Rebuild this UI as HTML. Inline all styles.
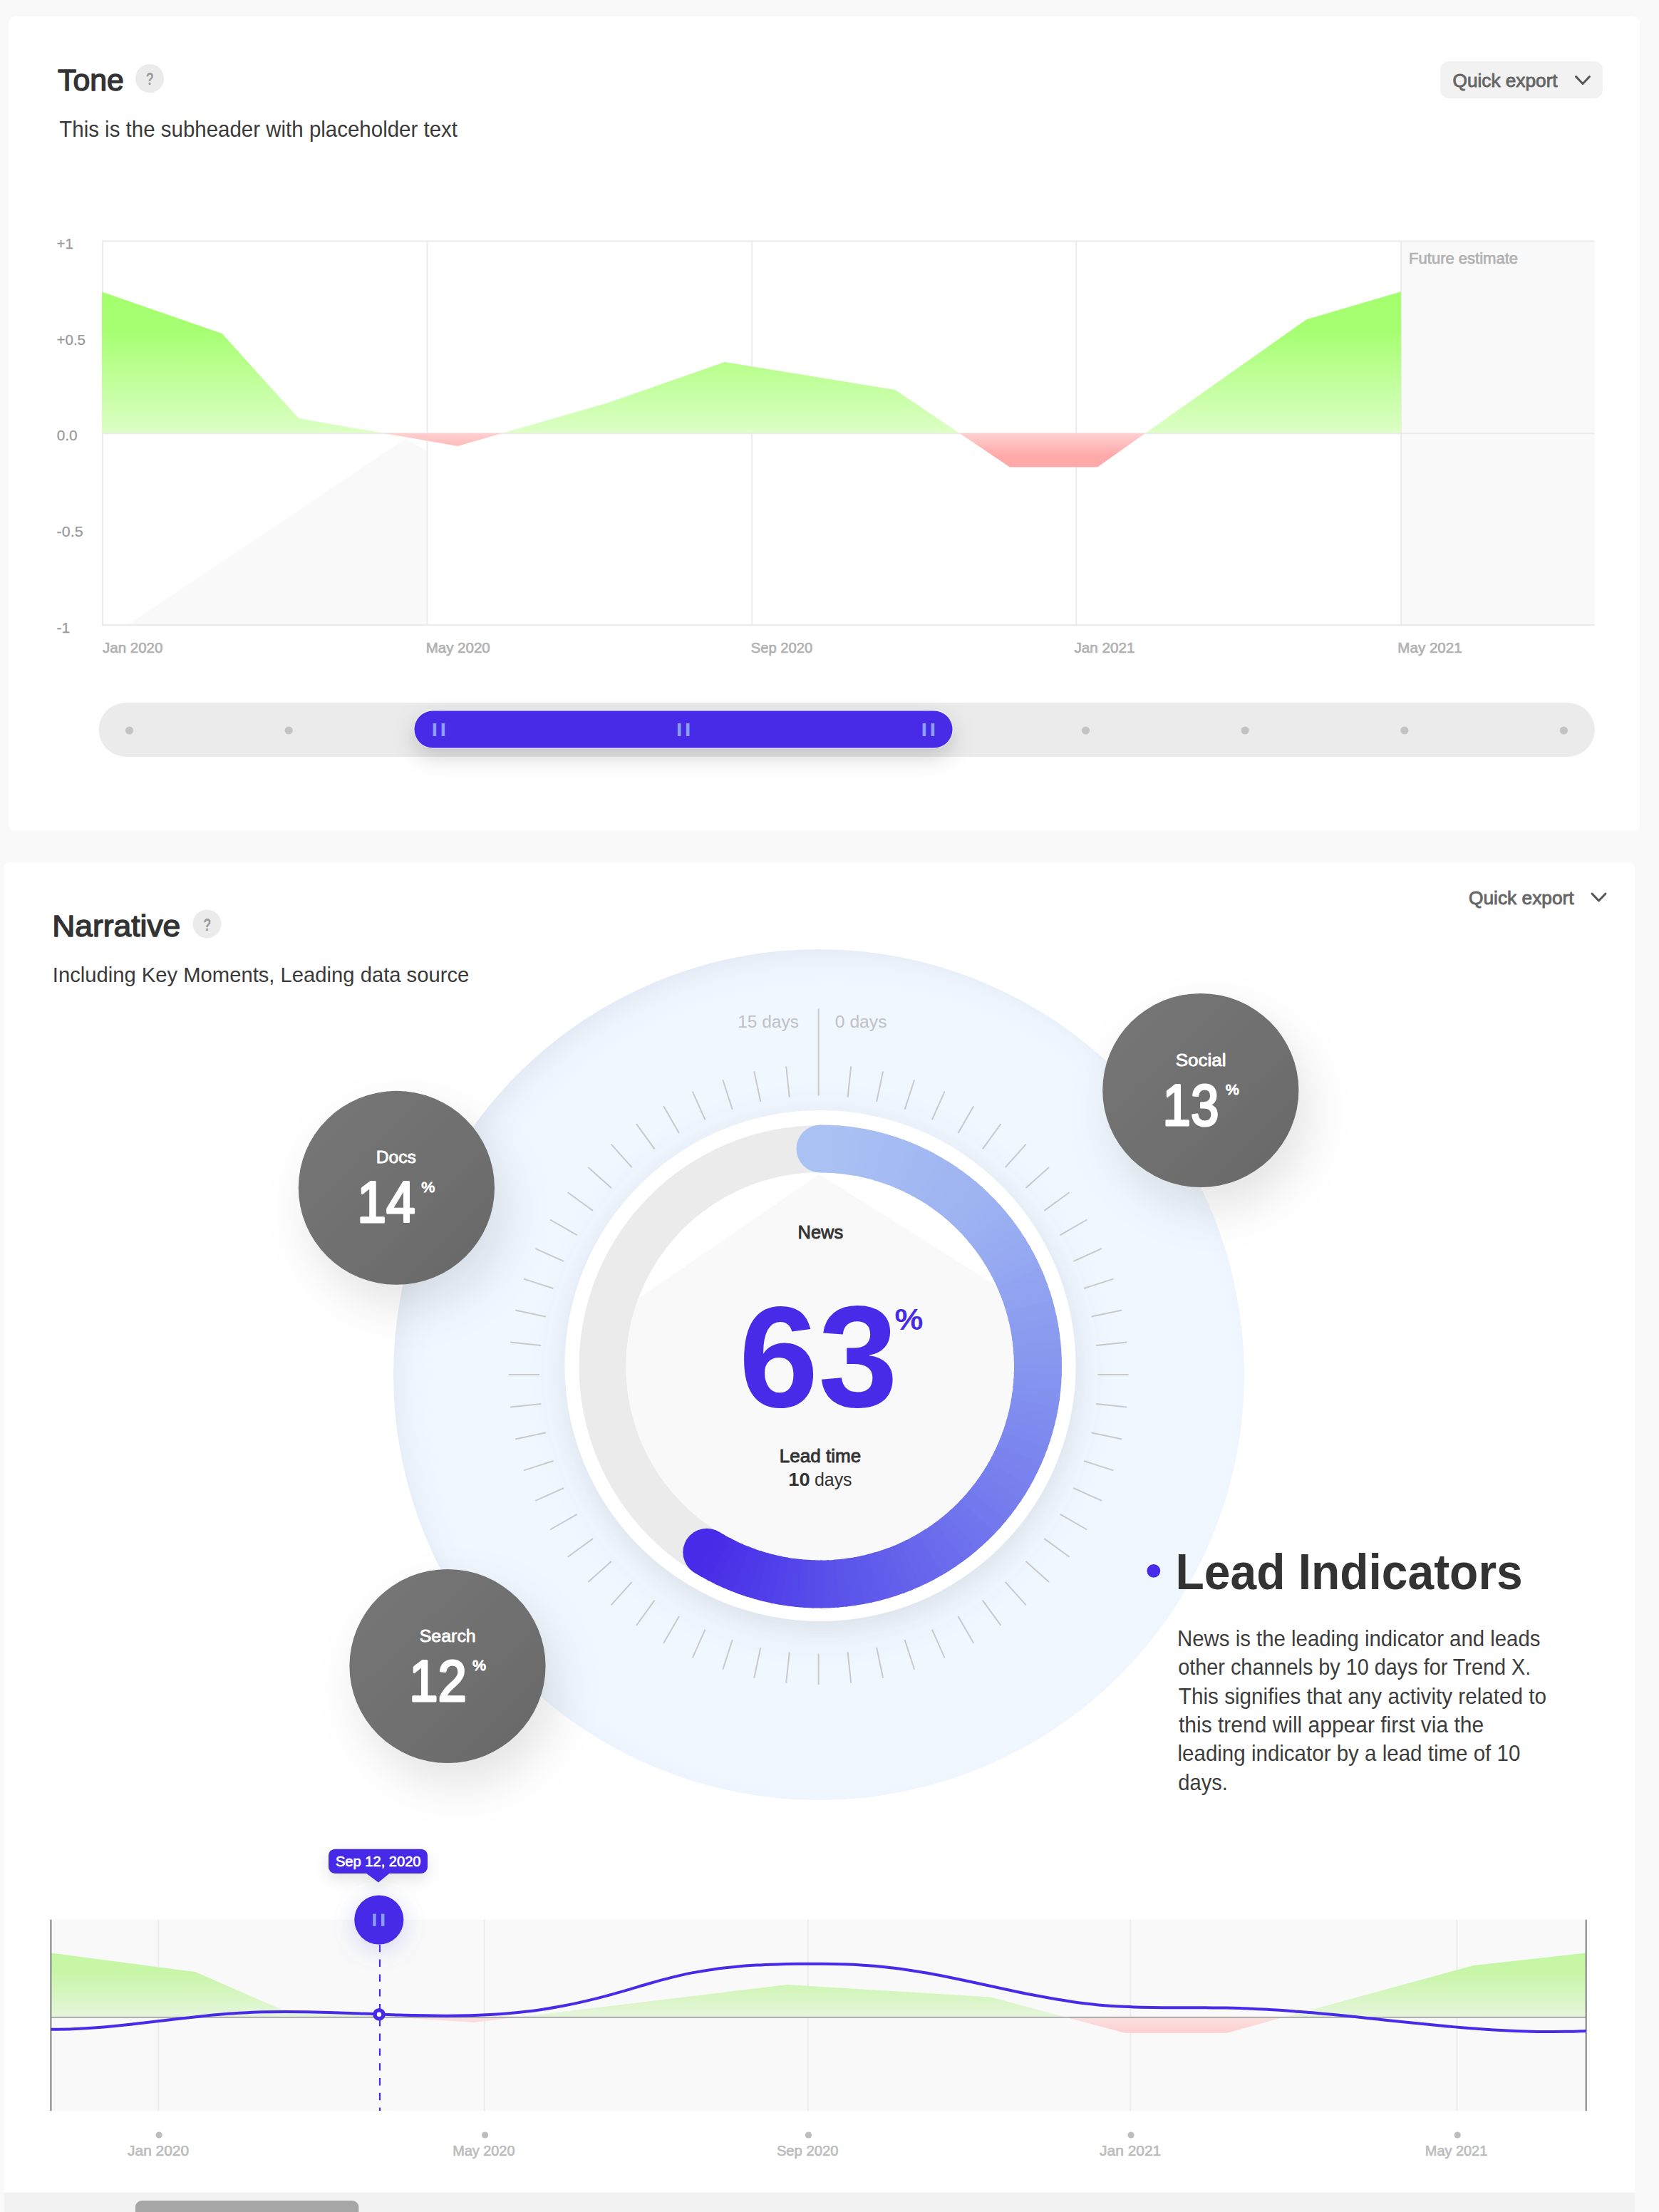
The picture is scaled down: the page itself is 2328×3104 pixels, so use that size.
<!DOCTYPE html>
<html lang="en">
<head>
<meta charset="utf-8">
<title>Tone &amp; Narrative</title>
<style>
html,body{margin:0;padding:0;background:#f9f9f9;}
body{font-family:'Liberation Sans',sans-serif;}
svg{display:block;width:100vw;height:calc(100vw * 3104 / 2328);}
svg text{font-family:"Liberation Sans",sans-serif;white-space:pre;}
</style>
</head>
<body>
<svg viewBox="0 0 2328 3104" preserveAspectRatio="xMinYMin meet">
<defs>
<linearGradient id="gG" gradientUnits="userSpaceOnUse" x1="0" y1="409" x2="0" y2="608">
<stop offset="0" stop-color="#a4ff6e"/><stop offset="0.28" stop-color="#a6ff71"/><stop offset="1" stop-color="#dcffc6"/></linearGradient>
<linearGradient id="gR" gradientUnits="userSpaceOnUse" x1="0" y1="608" x2="0" y2="656">
<stop offset="0" stop-color="#ffd0d0"/><stop offset="0.64" stop-color="#ffaaaa"/><stop offset="1" stop-color="#ffa8a8"/></linearGradient>
<linearGradient id="mG" gradientUnits="userSpaceOnUse" x1="0" y1="2740" x2="0" y2="2831">
<stop offset="0" stop-color="#c4f7a2"/><stop offset="0.3" stop-color="#c8f6a8"/><stop offset="1" stop-color="#e6f5dc"/></linearGradient>
<linearGradient id="mR" gradientUnits="userSpaceOnUse" x1="0" y1="2831" x2="0" y2="2853">
<stop offset="0" stop-color="#fbe0e0"/><stop offset="1" stop-color="#fdcfcf"/></linearGradient>
<linearGradient id="dk" x1="0.1" y1="0.1" x2="0.9" y2="0.9">
<stop offset="0" stop-color="#757575"/><stop offset="0.5" stop-color="#707070"/><stop offset="1" stop-color="#6a6a6a"/></linearGradient>
<filter id="shThumb" x="-10%" y="-80%" width="120%" height="320%"><feDropShadow dx="0" dy="12" stdDeviation="15" flood-color="#000" flood-opacity="0.17"/></filter>
<filter id="shRing" x="-30%" y="-30%" width="160%" height="160%"><feDropShadow dx="2" dy="12" stdDeviation="24" flood-color="#666b78" flood-opacity="0.17"/></filter>
<filter id="shDark" x="-60%" y="-60%" width="220%" height="220%"><feDropShadow dx="15" dy="30" stdDeviation="32" flood-color="#000" flood-opacity="0.105"/></filter>
<filter id="shGlow" x="-100%" y="-100%" width="300%" height="300%"><feDropShadow dx="0" dy="6" stdDeviation="16" flood-color="#6f80d6" flood-opacity="0.30"/></filter>
<filter id="shTip" x="-40%" y="-100%" width="180%" height="400%"><feDropShadow dx="0" dy="8" stdDeviation="10" flood-color="#000" flood-opacity="0.11"/></filter>
<radialGradient id="disc" gradientUnits="userSpaceOnUse" cx="1167" cy="1947" r="622.5">
<stop offset="0" stop-color="#f0f7ff"/><stop offset="0.90" stop-color="#f0f7ff"/><stop offset="0.95" stop-color="#edf4fd"/><stop offset="1" stop-color="#e5ebf6"/></radialGradient>
<clipPath id="cInner"><circle cx="1151" cy="1917.5" r="272.5"/></clipPath>
<clipPath id="cCard2"><rect x="6" y="1210.4" width="2288" height="2000" rx="12"/></clipPath>
</defs>
<rect x="12" y="23.2" width="2289" height="1142.6" rx="9" fill="#fff"/>
<rect x="5.6" y="1210" width="2288.4" height="2000" rx="8.5" fill="#fff"/>
<rect x="5.6" y="3076.7" width="2288.4" height="40" fill="#f2f2f2"/>
<rect x="190" y="3088" width="313.4" height="30" rx="9" fill="#a6a6a6"/>
<rect x="1966" y="338.5" width="272" height="538.5" fill="#f9f9f9"/>
<polygon points="180.6,876 569.4,615.4 598.4,632.4 598.4,876" fill="#f9f9f9"/>
<clipPath id="cPos"><rect x="0" y="300" width="2328" height="307.79999999999995"/></clipPath>
<clipPath id="cNeg"><rect x="0" y="607.8" width="2328" height="300"/></clipPath>
<rect x="143" y="338.5" width="2" height="538.5" fill="#ececec"/>
<rect x="598.3" y="338.5" width="2" height="538.5" fill="#ececec"/>
<rect x="1054" y="338.5" width="2" height="538.5" fill="#ececec"/>
<rect x="1509.3" y="338.5" width="2" height="538.5" fill="#ececec"/>
<rect x="1965" y="338.5" width="2" height="538.5" fill="#ececec"/>
<rect x="143" y="337.5" width="2095" height="2" fill="#ececec"/>
<rect x="143" y="876" width="2095" height="2" fill="#ececec"/>
<rect x="143" y="607.3" width="2095" height="2" fill="#ececec"/>
<polygon points="143,607.8 143,409.5 311.5,468 419,587 642,626 854,565 1017,508 1256,547 1417,655.4 1540,655.4 1833.4,448.2 1966,409.3 1966,607.8" fill="url(#gG)" clip-path="url(#cPos)"/>
<polygon points="143,607.8 143,409.5 311.5,468 419,587 642,626 854,565 1017,508 1256,547 1417,655.4 1540,655.4 1833.4,448.2 1966,409.3 1966,607.8" fill="url(#gR)" clip-path="url(#cNeg)"/>
<rect x="138.6" y="986" width="2099.2" height="76" rx="38" fill="#ebebeb"/>
<circle cx="181.5" cy="1025" r="5.6" fill="#c3c3c3"/>
<circle cx="405.2" cy="1025" r="5.6" fill="#c3c3c3"/>
<circle cx="628.8" cy="1025" r="5.6" fill="#c3c3c3"/>
<circle cx="852.5" cy="1025" r="5.6" fill="#c3c3c3"/>
<circle cx="1076.1" cy="1025" r="5.6" fill="#c3c3c3"/>
<circle cx="1299.8" cy="1025" r="5.6" fill="#c3c3c3"/>
<circle cx="1523.5" cy="1025" r="5.6" fill="#c3c3c3"/>
<circle cx="1747.1" cy="1025" r="5.6" fill="#c3c3c3"/>
<circle cx="1970.8" cy="1025" r="5.6" fill="#c3c3c3"/>
<circle cx="2194.4" cy="1025" r="5.6" fill="#c3c3c3"/>
<rect x="580.6" y="996" width="756.8" height="54.2" rx="27.1" fill="#eceafa" filter="url(#shThumb)"/>
<rect x="581.5" y="997.5" width="755" height="52" rx="26" fill="#482be7"/>
<rect x="607.6" y="1015" width="4.6" height="18" fill="#8c9ff6"/>
<rect x="619.6" y="1015" width="4.6" height="18" fill="#8c9ff6"/>
<rect x="950.9000000000001" y="1015" width="4.6" height="18" fill="#8c9ff6"/>
<rect x="962.9000000000001" y="1015" width="4.6" height="18" fill="#8c9ff6"/>
<rect x="1294.6000000000001" y="1015" width="4.6" height="18" fill="#8c9ff6"/>
<rect x="1306.6000000000001" y="1015" width="4.6" height="18" fill="#8c9ff6"/>
<circle cx="1149" cy="1929" r="597" fill="url(#disc)"/>
<path d="M1148.7 1537.5L1148.7 1415.6M1189.6 1539.6L1194.2 1496.4M1230.1 1546.1L1239.1 1503.5M1269.7 1556.7L1283.1 1515.3M1307.9 1571.3L1325.6 1531.6M1344.5 1590.0L1366.2 1552.3M1378.8 1612.3L1404.4 1577.1M1410.7 1638.1L1439.8 1605.7M1439.6 1667.0L1472.0 1637.9M1465.4 1698.9L1500.6 1673.3M1487.7 1733.2L1525.4 1711.5M1506.4 1769.8L1546.1 1752.1M1521.0 1808.0L1562.4 1794.6M1531.6 1847.6L1574.2 1838.6M1538.1 1888.1L1581.3 1883.5M1540.2 1929.0L1583.7 1929.0M1538.1 1969.9L1581.3 1974.5M1531.6 2010.4L1574.2 2019.4M1521.0 2050.0L1562.4 2063.4M1506.4 2088.2L1546.1 2105.9M1487.7 2124.8L1525.4 2146.5M1465.4 2159.1L1500.6 2184.7M1439.6 2191.0L1472.0 2220.1M1410.7 2219.9L1439.8 2252.3M1378.8 2245.7L1404.4 2280.9M1344.5 2268.0L1366.2 2305.7M1307.9 2286.7L1325.6 2326.4M1269.7 2301.3L1283.1 2342.7M1230.1 2311.9L1239.1 2354.5M1189.6 2318.4L1194.2 2361.6M1148.7 2320.5L1148.7 2364.0M1107.8 2318.4L1103.2 2361.6M1067.3 2311.9L1058.3 2354.5M1027.7 2301.3L1014.3 2342.7M989.5 2286.7L971.8 2326.4M953.0 2268.0L931.2 2305.7M918.6 2245.7L893.0 2280.9M886.7 2219.9L857.6 2252.3M857.8 2191.0L825.4 2220.1M832.0 2159.1L796.8 2184.7M809.7 2124.8L772.0 2146.5M791.0 2088.2L751.3 2105.9M776.4 2050.0L735.0 2063.4M765.8 2010.4L723.2 2019.4M759.3 1969.9L716.1 1974.5M757.2 1929.0L713.7 1929.0M759.3 1888.1L716.1 1883.5M765.8 1847.6L723.2 1838.6M776.4 1808.0L735.0 1794.6M791.0 1769.8L751.3 1752.1M809.7 1733.2L772.0 1711.5M832.0 1698.9L796.8 1673.3M857.8 1667.0L825.4 1637.9M886.7 1638.1L857.6 1605.7M918.6 1612.3L893.0 1577.1M952.9 1590.0L931.2 1552.3M989.5 1571.3L971.8 1531.6M1027.7 1556.7L1014.3 1515.3M1067.3 1546.1L1058.3 1503.5M1107.8 1539.6L1103.2 1496.4" stroke="#cacaca" stroke-width="2" fill="none"/>
<ellipse cx="556.4" cy="1666.8" rx="137.6" ry="136" fill="url(#dk)" filter="url(#shDark)"/>
<ellipse cx="1684.8" cy="1530" rx="137.6" ry="136" fill="url(#dk)" filter="url(#shDark)"/>
<ellipse cx="628" cy="2338" rx="137.6" ry="136" fill="url(#dk)" filter="url(#shDark)"/>
<circle cx="1151" cy="1916.5" r="358.5" fill="#fff" filter="url(#shRing)"/>
<circle cx="1151" cy="1917.5" r="338.5" fill="#ebebeb"/>
<circle cx="1151" cy="1917.5" r="272.5" fill="#fff"/>
<polygon points="1149.5,1647.8 860,1846.7 860,2300 1440,2300 1440,1830.5" fill="#f9f9f9" clip-path="url(#cInner)"/>
<g fill="none" stroke-width="67"><circle cx="1151.00" cy="1612.00" r="33.5" fill="rgb(170, 194, 243)"/><circle cx="991.83" cy="2178.26" r="33.5" fill="rgb(71, 43, 232)"/><path d="M1151.00 1612.00A305.5 305.5 0 0 1 1164.30 1612.29" stroke="rgb(170, 194, 243)"/><path d="M1161.63 1612.19A305.5 305.5 0 0 1 1174.91 1612.94" stroke="rgb(169, 193, 243)"/><path d="M1172.25 1612.74A305.5 305.5 0 0 1 1185.49 1613.95" stroke="rgb(169, 192, 243)"/><path d="M1182.84 1613.66A305.5 305.5 0 0 1 1196.04 1615.34" stroke="rgb(168, 192, 243)"/><path d="M1193.40 1614.96A305.5 305.5 0 0 1 1206.52 1617.09" stroke="rgb(167, 191, 243)"/><path d="M1203.90 1616.62A305.5 305.5 0 0 1 1216.95 1619.20" stroke="rgb(167, 190, 243)"/><path d="M1214.34 1618.64A305.5 305.5 0 0 1 1227.29 1621.68" stroke="rgb(166, 189, 243)"/><path d="M1224.70 1621.02A305.5 305.5 0 0 1 1237.54 1624.51" stroke="rgb(166, 189, 243)"/><path d="M1234.98 1623.77A305.5 305.5 0 0 1 1247.68 1627.70" stroke="rgb(165, 188, 243)"/><path d="M1245.15 1626.87A305.5 305.5 0 0 1 1257.71 1631.24" stroke="rgb(165, 187, 243)"/><path d="M1255.20 1630.32A305.5 305.5 0 0 1 1267.60 1635.13" stroke="rgb(164, 187, 243)"/><path d="M1265.13 1634.12A305.5 305.5 0 0 1 1277.36 1639.36" stroke="rgb(163, 186, 242)"/><path d="M1274.93 1638.26A305.5 305.5 0 0 1 1286.96 1643.92" stroke="rgb(163, 185, 242)"/><path d="M1284.57 1642.75A305.5 305.5 0 0 1 1296.40 1648.82" stroke="rgb(162, 184, 242)"/><path d="M1294.05 1647.56A305.5 305.5 0 0 1 1305.66 1654.04" stroke="rgb(162, 184, 242)"/><path d="M1303.36 1652.70A305.5 305.5 0 0 1 1314.74 1659.58" stroke="rgb(161, 183, 242)"/><path d="M1312.48 1658.17A305.5 305.5 0 0 1 1323.61 1665.44" stroke="rgb(160, 182, 242)"/><path d="M1321.41 1663.94A305.5 305.5 0 0 1 1332.28 1671.60" stroke="rgb(160, 182, 242)"/><path d="M1330.13 1670.03A305.5 305.5 0 0 1 1340.73 1678.06" stroke="rgb(159, 181, 242)"/><path d="M1338.63 1676.41A305.5 305.5 0 0 1 1348.95 1684.80" stroke="rgb(159, 180, 242)"/><path d="M1346.91 1683.09A305.5 305.5 0 0 1 1356.93 1691.83" stroke="rgb(158, 179, 242)"/><path d="M1354.95 1690.05A305.5 305.5 0 0 1 1364.65 1699.14" stroke="rgb(158, 179, 242)"/><path d="M1362.74 1697.28A305.5 305.5 0 0 1 1372.12 1706.70" stroke="rgb(157, 178, 242)"/><path d="M1370.28 1704.78A305.5 305.5 0 0 1 1379.33 1714.53" stroke="rgb(156, 177, 242)"/><path d="M1377.55 1712.54A305.5 305.5 0 0 1 1386.25 1722.60" stroke="rgb(155, 176, 242)"/><path d="M1384.54 1720.55A305.5 305.5 0 0 1 1392.89 1730.90" stroke="rgb(154, 174, 242)"/><path d="M1391.25 1728.80A305.5 305.5 0 0 1 1399.24 1739.43" stroke="rgb(153, 173, 241)"/><path d="M1397.67 1737.27A305.5 305.5 0 0 1 1405.28 1748.18" stroke="rgb(152, 172, 241)"/><path d="M1403.80 1745.97A305.5 305.5 0 0 1 1411.02 1757.13" stroke="rgb(151, 171, 241)"/><path d="M1409.61 1754.87A305.5 305.5 0 0 1 1416.45 1766.28" stroke="rgb(150, 169, 241)"/><path d="M1415.12 1763.97A305.5 305.5 0 0 1 1421.55 1775.61" stroke="rgb(149, 168, 241)"/><path d="M1420.30 1773.25A305.5 305.5 0 0 1 1426.32 1785.11" stroke="rgb(148, 167, 241)"/><path d="M1425.16 1782.71A305.5 305.5 0 0 1 1430.76 1794.77" stroke="rgb(147, 166, 241)"/><path d="M1429.68 1792.33A305.5 305.5 0 0 1 1434.86 1804.58" stroke="rgb(146, 164, 241)"/><path d="M1433.87 1802.11A305.5 305.5 0 0 1 1438.62 1814.53" stroke="rgb(145, 163, 240)"/><path d="M1437.71 1812.02A305.5 305.5 0 0 1 1442.03 1824.60" stroke="rgb(144, 162, 240)"/><path d="M1441.21 1822.06A305.5 305.5 0 0 1 1445.09 1834.78" stroke="rgb(143, 161, 240)"/><path d="M1444.36 1832.22A305.5 305.5 0 0 1 1447.79 1845.07" stroke="rgb(142, 159, 240)"/><path d="M1447.15 1842.48A305.5 305.5 0 0 1 1450.13 1855.44" stroke="rgb(141, 158, 240)"/><path d="M1449.58 1852.83A305.5 305.5 0 0 1 1452.11 1865.89" stroke="rgb(140, 157, 240)"/><path d="M1451.65 1863.26A305.5 305.5 0 0 1 1453.72 1876.40" stroke="rgb(139, 156, 240)"/><path d="M1453.35 1873.76A305.5 305.5 0 0 1 1454.97 1886.96" stroke="rgb(138, 155, 239)"/><path d="M1454.69 1884.31A305.5 305.5 0 0 1 1455.85 1897.55" stroke="rgb(137, 153, 239)"/><path d="M1455.66 1894.89A305.5 305.5 0 0 1 1456.36 1908.18" stroke="rgb(136, 152, 239)"/><path d="M1456.26 1905.51A305.5 305.5 0 0 1 1456.50 1918.81" stroke="rgb(135, 151, 239)"/><path d="M1456.50 1916.14A305.5 305.5 0 0 1 1456.27 1929.44" stroke="rgb(134, 149, 239)"/><path d="M1456.36 1926.77A305.5 305.5 0 0 1 1455.67 1940.05" stroke="rgb(133, 148, 239)"/><path d="M1455.85 1937.40A305.5 305.5 0 0 1 1454.70 1950.64" stroke="rgb(132, 147, 239)"/><path d="M1454.97 1947.99A305.5 305.5 0 0 1 1453.36 1961.19" stroke="rgb(131, 145, 239)"/><path d="M1453.73 1958.55A305.5 305.5 0 0 1 1451.66 1971.69" stroke="rgb(130, 144, 239)"/><path d="M1452.12 1969.06A305.5 305.5 0 0 1 1449.59 1982.12" stroke="rgb(129, 142, 239)"/><path d="M1450.14 1979.51A305.5 305.5 0 0 1 1447.16 1992.47" stroke="rgb(128, 141, 238)"/><path d="M1447.80 1989.88A305.5 305.5 0 0 1 1444.37 2002.73" stroke="rgb(127, 140, 238)"/><path d="M1445.10 2000.17A305.5 305.5 0 0 1 1441.23 2012.89" stroke="rgb(126, 138, 238)"/><path d="M1442.05 2010.35A305.5 305.5 0 0 1 1437.73 2022.93" stroke="rgb(125, 137, 238)"/><path d="M1438.64 2020.43A305.5 305.5 0 0 1 1433.89 2032.85" stroke="rgb(124, 135, 238)"/><path d="M1434.88 2030.37A305.5 305.5 0 0 1 1429.70 2042.62" stroke="rgb(123, 134, 238)"/><path d="M1430.78 2040.18A305.5 305.5 0 0 1 1425.18 2052.24" stroke="rgb(122, 132, 238)"/><path d="M1426.34 2049.85A305.5 305.5 0 0 1 1420.32 2061.70" stroke="rgb(122, 131, 238)"/><path d="M1421.57 2059.35A305.5 305.5 0 0 1 1415.14 2070.99" stroke="rgb(121, 130, 238)"/><path d="M1416.47 2068.68A305.5 305.5 0 0 1 1409.64 2080.09" stroke="rgb(120, 128, 238)"/><path d="M1411.05 2077.83A305.5 305.5 0 0 1 1403.83 2088.99" stroke="rgb(119, 127, 238)"/><path d="M1405.31 2086.78A305.5 305.5 0 0 1 1397.70 2097.69" stroke="rgb(118, 125, 237)"/><path d="M1399.27 2095.53A305.5 305.5 0 0 1 1391.28 2106.16" stroke="rgb(117, 124, 237)"/><path d="M1392.92 2104.06A305.5 305.5 0 0 1 1384.57 2114.41" stroke="rgb(116, 123, 237)"/><path d="M1386.28 2112.36A305.5 305.5 0 0 1 1377.58 2122.42" stroke="rgb(115, 121, 237)"/><path d="M1379.36 2120.43A305.5 305.5 0 0 1 1370.31 2130.18" stroke="rgb(114, 120, 237)"/><path d="M1372.16 2128.26A305.5 305.5 0 0 1 1362.78 2137.68" stroke="rgb(113, 118, 237)"/><path d="M1364.69 2135.83A305.5 305.5 0 0 1 1354.99 2144.92" stroke="rgb(112, 117, 237)"/><path d="M1356.96 2143.13A305.5 305.5 0 0 1 1346.95 2151.88" stroke="rgb(111, 115, 237)"/><path d="M1348.99 2150.16A305.5 305.5 0 0 1 1338.67 2158.56" stroke="rgb(110, 113, 237)"/><path d="M1340.77 2156.91A305.5 305.5 0 0 1 1330.17 2164.94" stroke="rgb(109, 111, 236)"/><path d="M1332.32 2163.37A305.5 305.5 0 0 1 1321.45 2171.03" stroke="rgb(108, 109, 236)"/><path d="M1323.66 2169.53A305.5 305.5 0 0 1 1312.52 2176.81" stroke="rgb(107, 108, 236)"/><path d="M1314.78 2175.39A305.5 305.5 0 0 1 1303.40 2182.27" stroke="rgb(105, 106, 236)"/><path d="M1305.71 2180.93A305.5 305.5 0 0 1 1294.09 2187.42" stroke="rgb(104, 104, 236)"/><path d="M1296.44 2186.16A305.5 305.5 0 0 1 1284.61 2192.23" stroke="rgb(103, 102, 236)"/><path d="M1287.01 2191.05A305.5 305.5 0 0 1 1274.97 2196.71" stroke="rgb(102, 101, 236)"/><path d="M1277.40 2195.62A305.5 305.5 0 0 1 1265.18 2200.86" stroke="rgb(101, 99, 236)"/><path d="M1267.65 2199.85A305.5 305.5 0 0 1 1255.25 2204.66" stroke="rgb(100, 97, 235)"/><path d="M1257.75 2203.74A305.5 305.5 0 0 1 1245.19 2208.12" stroke="rgb(99, 95, 235)"/><path d="M1247.73 2207.28A305.5 305.5 0 0 1 1235.02 2211.22" stroke="rgb(98, 94, 235)"/><path d="M1237.58 2210.47A305.5 305.5 0 0 1 1224.75 2213.96" stroke="rgb(97, 92, 235)"/><path d="M1227.34 2213.31A305.5 305.5 0 0 1 1214.39 2216.35" stroke="rgb(95, 90, 235)"/><path d="M1216.99 2215.79A305.5 305.5 0 0 1 1203.95 2218.38" stroke="rgb(94, 88, 235)"/><path d="M1206.57 2217.90A305.5 305.5 0 0 1 1193.45 2220.04" stroke="rgb(93, 86, 235)"/><path d="M1196.09 2219.65A305.5 305.5 0 0 1 1182.89 2221.33" stroke="rgb(92, 85, 234)"/><path d="M1185.54 2221.04A305.5 305.5 0 0 1 1172.30 2222.26" stroke="rgb(91, 83, 234)"/><path d="M1174.96 2222.06A305.5 305.5 0 0 1 1161.68 2222.81" stroke="rgb(90, 81, 234)"/><path d="M1164.35 2222.71A305.5 305.5 0 0 1 1151.05 2223.00" stroke="rgb(89, 79, 234)"/><path d="M1153.72 2222.99A305.5 305.5 0 0 1 1140.42 2222.82" stroke="rgb(88, 77, 234)"/><path d="M1143.08 2222.90A305.5 305.5 0 0 1 1129.80 2222.26" stroke="rgb(87, 75, 234)"/><path d="M1132.46 2222.44A305.5 305.5 0 0 1 1119.21 2221.34" stroke="rgb(86, 73, 234)"/><path d="M1121.86 2221.61A305.5 305.5 0 0 1 1108.65 2220.05" stroke="rgb(84, 71, 234)"/><path d="M1111.29 2220.41A305.5 305.5 0 0 1 1098.15 2218.39" stroke="rgb(83, 69, 233)"/><path d="M1100.78 2218.84A305.5 305.5 0 0 1 1087.71 2216.37" stroke="rgb(82, 66, 233)"/><path d="M1090.32 2216.91A305.5 305.5 0 0 1 1077.35 2213.99" stroke="rgb(81, 64, 233)"/><path d="M1079.94 2214.62A305.5 305.5 0 0 1 1067.07 2211.25" stroke="rgb(80, 62, 233)"/><path d="M1069.64 2211.97A305.5 305.5 0 0 1 1056.90 2208.15" stroke="rgb(79, 60, 233)"/><path d="M1059.44 2208.96A305.5 305.5 0 0 1 1046.84 2204.70" stroke="rgb(78, 57, 233)"/><path d="M1049.35 2205.59A305.5 305.5 0 0 1 1036.91 2200.90" stroke="rgb(77, 55, 233)"/><path d="M1039.39 2201.88A305.5 305.5 0 0 1 1027.12 2196.76" stroke="rgb(76, 53, 233)"/><path d="M1029.56 2197.83A305.5 305.5 0 0 1 1017.48 2192.28" stroke="rgb(75, 51, 232)"/><path d="M1019.88 2193.43A305.5 305.5 0 0 1 1007.99 2187.46" stroke="rgb(74, 49, 232)"/><path d="M1010.36 2188.70A305.5 305.5 0 0 1 998.69 2182.32" stroke="rgb(73, 46, 232)"/><path d="M1001.00 2183.64A305.5 305.5 0 0 1 991.83 2178.26" stroke="rgb(72, 44, 232)"/></g>
<circle cx="1618.8" cy="2204.3" r="9.4" fill="#472be8"/>
<rect x="71.4" y="2693.7" width="2154.2999999999997" height="268.5" fill="#f9f9f9"/>
<rect x="221.3" y="2693.7" width="2" height="268.5" fill="#ececec"/>
<rect x="678.8" y="2693.7" width="2" height="268.5" fill="#ececec"/>
<rect x="1132.7" y="2693.7" width="2" height="268.5" fill="#ececec"/>
<rect x="1585.3" y="2693.7" width="2" height="268.5" fill="#ececec"/>
<rect x="2043.4" y="2693.7" width="2" height="268.5" fill="#ececec"/>
<clipPath id="mPos"><rect x="0" y="2600" width="2328" height="230.80000000000018"/></clipPath>
<clipPath id="mNeg"><rect x="0" y="2830.8" width="2328" height="200"/></clipPath>
<polygon points="71.4,2830.8 71.4,2740.5 273.9,2767 395.4,2820 665.4,2838 1104.7,2784.9 1390.4,2802.5 1578.5,2852.7 1721.3,2852.7 2068,2757.9 2225.7,2740.5 2225.7,2830.8" fill="url(#mG)" clip-path="url(#mPos)"/>
<polygon points="71.4,2830.8 71.4,2740.5 273.9,2767 395.4,2820 665.4,2838 1104.7,2784.9 1390.4,2802.5 1578.5,2852.7 1721.3,2852.7 2068,2757.9 2225.7,2740.5 2225.7,2830.8" fill="url(#mR)" clip-path="url(#mNeg)"/>
<rect x="71.4" y="2829.9" width="2154.2999999999997" height="1.8" fill="#a3a3a3"/>
<rect x="70.4" y="2693.7" width="2" height="268.5" fill="#7e7e7e"/>
<rect x="2224.7" y="2693.7" width="2" height="268.5" fill="#7e7e7e"/>
<path d="M71.4 2847.8C76.4 2847.7 91.4 2847.7 101.4 2847.3C111.4 2846.9 121.4 2846.3 131.4 2845.6C141.4 2844.9 151.4 2844.0 161.4 2843.0C171.4 2842.1 181.4 2841.0 191.4 2839.8C201.4 2838.7 211.4 2837.5 221.4 2836.3C231.4 2835.2 241.4 2833.9 251.4 2832.8C261.4 2831.6 271.4 2830.5 281.4 2829.4C291.4 2828.4 301.4 2827.4 311.4 2826.6C321.4 2825.8 331.4 2825.0 341.4 2824.5C351.4 2823.9 361.4 2823.6 371.4 2823.3C381.4 2823.1 391.4 2823.0 401.4 2822.9C411.4 2822.9 421.4 2823.0 431.4 2823.2C441.4 2823.4 451.4 2823.6 461.4 2823.9C471.4 2824.2 481.4 2824.6 491.4 2825.0C501.4 2825.3 511.4 2825.7 521.4 2826.1C531.4 2826.5 541.4 2826.9 551.4 2827.2C561.4 2827.5 571.4 2827.9 581.4 2828.1C591.4 2828.3 601.4 2828.5 611.4 2828.6C621.4 2828.7 631.4 2828.7 641.4 2828.6C651.4 2828.4 661.4 2828.2 671.4 2827.8C681.4 2827.4 691.4 2826.9 701.4 2826.2C711.4 2825.5 721.4 2824.6 731.4 2823.5C741.4 2822.4 751.4 2821.2 761.4 2819.7C771.4 2818.2 781.4 2816.4 791.4 2814.5C801.4 2812.6 811.4 2810.5 821.4 2808.1C831.4 2805.8 841.4 2803.3 851.4 2800.6C861.4 2797.9 871.4 2795.0 881.4 2792.1C891.4 2789.2 901.4 2786.1 911.4 2783.3C921.4 2780.4 931.4 2777.6 941.4 2775.1C951.4 2772.6 961.4 2770.3 971.4 2768.4C981.4 2766.5 991.4 2764.8 1001.4 2763.4C1011.4 2762.0 1021.4 2760.9 1031.4 2759.9C1041.4 2758.9 1051.4 2758.2 1061.4 2757.6C1071.4 2757.0 1081.4 2756.7 1091.4 2756.4C1101.4 2756.0 1111.4 2755.9 1121.4 2755.8C1131.4 2755.7 1141.4 2755.7 1151.4 2755.8C1161.4 2755.9 1171.4 2756.0 1181.4 2756.3C1191.4 2756.6 1201.4 2757.0 1211.4 2757.7C1221.4 2758.3 1231.4 2759.1 1241.4 2760.2C1251.4 2761.2 1261.4 2762.5 1271.4 2763.9C1281.4 2765.4 1291.4 2767.0 1301.4 2768.8C1311.4 2770.6 1321.4 2772.5 1331.4 2774.5C1341.4 2776.5 1351.4 2778.6 1361.4 2780.7C1371.4 2782.8 1381.4 2785.1 1391.4 2787.2C1401.4 2789.4 1411.4 2791.6 1421.4 2793.7C1431.4 2795.8 1441.4 2797.9 1451.4 2799.8C1461.4 2801.7 1471.4 2803.6 1481.4 2805.3C1491.4 2807.0 1501.4 2808.6 1511.4 2810.0C1521.4 2811.3 1531.4 2812.5 1541.4 2813.4C1551.4 2814.4 1561.4 2815.0 1571.4 2815.6C1581.4 2816.2 1591.4 2816.5 1601.4 2816.8C1611.4 2817.0 1621.4 2817.1 1631.4 2817.2C1641.4 2817.3 1651.4 2817.3 1661.4 2817.3C1671.4 2817.3 1681.4 2817.3 1691.4 2817.3C1701.4 2817.4 1711.4 2817.4 1721.4 2817.6C1731.4 2817.8 1741.4 2818.0 1751.4 2818.4C1761.4 2818.8 1771.4 2819.3 1781.4 2819.9C1791.4 2820.5 1801.4 2821.1 1811.4 2821.9C1821.4 2822.6 1831.4 2823.5 1841.4 2824.3C1851.4 2825.2 1861.4 2826.2 1871.4 2827.1C1881.4 2828.1 1891.4 2829.1 1901.4 2830.1C1911.4 2831.2 1921.4 2832.2 1931.4 2833.3C1941.4 2834.4 1951.4 2835.4 1961.4 2836.5C1971.4 2837.5 1981.4 2838.6 1991.4 2839.6C2001.4 2840.6 2011.4 2841.6 2021.4 2842.5C2031.4 2843.5 2041.4 2844.4 2051.4 2845.2C2061.4 2846.0 2071.4 2846.8 2081.4 2847.5C2091.4 2848.2 2101.4 2848.8 2111.4 2849.3C2121.4 2849.8 2131.4 2850.2 2141.4 2850.5C2151.4 2850.8 2161.4 2851.0 2171.4 2851.0C2181.4 2851.1 2192.4 2850.9 2201.4 2850.8C2210.4 2850.6 2221.6 2850.0 2225.7 2849.9" fill="none" stroke="#472be8" stroke-width="4"/>
<path d="M533 2728.8V2962" stroke="#472be8" stroke-width="2.2" stroke-dasharray="10.4 10.4" fill="none"/>
<circle cx="532" cy="2826.8" r="6" fill="#fff" stroke="#472be8" stroke-width="5.6"/>
<circle cx="531.8" cy="2694" r="34.6" fill="#472be8" filter="url(#shGlow)"/>
<rect x="523.2" y="2685.6" width="4.4" height="17.2" fill="#8c9ff6"/><rect x="535" y="2685.6" width="4.4" height="17.2" fill="#8c9ff6"/>
<g filter="url(#shTip)"><rect x="461" y="2594.7" width="139" height="34.2" rx="9" fill="#472be8"/><path d="M513.5 2628.5L547 2628.5L531 2641.6Z" fill="#472be8"/></g>
<circle cx="223.10000000000002" cy="2996" r="4.6" fill="#bdbdbd"/>
<circle cx="680.5999999999999" cy="2996" r="4.6" fill="#bdbdbd"/>
<circle cx="1134.5" cy="2996" r="4.6" fill="#bdbdbd"/>
<circle cx="1587.1" cy="2996" r="4.6" fill="#bdbdbd"/>
<circle cx="2045.2" cy="2996" r="4.6" fill="#bdbdbd"/>
<circle cx="210" cy="110" r="20" fill="#ebebeb"/>
<circle cx="290.5" cy="1296.4" r="20" fill="#ebebeb"/>
<rect x="2021" y="86" width="228" height="52" rx="12" fill="#f2f2f2"/>
<path d="M2211.5 107.5L2221 117.5L2230.5 107.5" fill="none" stroke="#555" stroke-width="3" stroke-linecap="round" stroke-linejoin="round"/>
<path d="M2234 1254L2243.5 1264L2253 1254" fill="none" stroke="#555" stroke-width="3" stroke-linecap="round" stroke-linejoin="round"/>
<g>
<text x="81.01" y="127.10" font-size="42.50" stroke="#333" stroke-width="1.45" stroke-linejoin="round" fill="#333" textLength="92.77" lengthAdjust="spacingAndGlyphs">Tone</text>
<text x="204.67" y="119.30" font-size="23.00" font-weight="700" fill="#9a9a9a" textLength="11.08" lengthAdjust="spacingAndGlyphs">?</text>
<text x="83.24" y="192.30" font-size="30.50" fill="#3a3a3a" textLength="558.78" lengthAdjust="spacingAndGlyphs">This is the subheader with placeholder text</text>
<text x="2038.50" y="122.00" font-size="26.20" stroke="#666" stroke-width="0.89" stroke-linejoin="round" fill="#666" textLength="147.14" lengthAdjust="spacingAndGlyphs">Quick export</text>
<text x="79.53" y="349.00" font-size="21.00" stroke="#999" stroke-width="0.25" stroke-linejoin="round" fill="#999" textLength="23.35" lengthAdjust="spacingAndGlyphs">+1</text>
<text x="79.52" y="483.70" font-size="21.00" stroke="#999" stroke-width="0.25" stroke-linejoin="round" fill="#999" textLength="40.51" lengthAdjust="spacingAndGlyphs">+0.5</text>
<text x="79.71" y="618.40" font-size="21.00" stroke="#999" stroke-width="0.25" stroke-linejoin="round" fill="#999" textLength="28.98" lengthAdjust="spacingAndGlyphs">0.0</text>
<text x="79.57" y="753.00" font-size="21.00" stroke="#999" stroke-width="0.25" stroke-linejoin="round" fill="#999" textLength="37.01" lengthAdjust="spacingAndGlyphs">-0.5</text>
<text x="79.58" y="888.00" font-size="21.00" stroke="#999" stroke-width="0.25" stroke-linejoin="round" fill="#999" textLength="18.82" lengthAdjust="spacingAndGlyphs">-1</text>
<text x="144.03" y="916.40" font-size="21.00" stroke="#b2b2b2" stroke-width="0.71" stroke-linejoin="round" fill="#b2b2b2" textLength="84.41" lengthAdjust="spacingAndGlyphs">Jan 2020</text>
<text x="597.67" y="916.40" font-size="21.00" stroke="#b2b2b2" stroke-width="0.71" stroke-linejoin="round" fill="#b2b2b2" textLength="90.07" lengthAdjust="spacingAndGlyphs">May 2020</text>
<text x="1053.84" y="916.40" font-size="21.00" stroke="#b2b2b2" stroke-width="0.71" stroke-linejoin="round" fill="#b2b2b2" textLength="86.29" lengthAdjust="spacingAndGlyphs">Sep 2020</text>
<text x="1507.53" y="916.40" font-size="21.00" stroke="#b2b2b2" stroke-width="0.71" stroke-linejoin="round" fill="#b2b2b2" textLength="85.12" lengthAdjust="spacingAndGlyphs">Jan 2021</text>
<text x="1961.37" y="916.40" font-size="21.00" stroke="#b2b2b2" stroke-width="0.71" stroke-linejoin="round" fill="#b2b2b2" textLength="90.28" lengthAdjust="spacingAndGlyphs">May 2021</text>
<text x="1977.06" y="369.50" font-size="21.50" stroke="#b2b2b2" stroke-width="0.73" stroke-linejoin="round" fill="#b2b2b2" textLength="153.06" lengthAdjust="spacingAndGlyphs">Future estimate</text>
<text x="73.29" y="1313.70" font-size="42.50" stroke="#333" stroke-width="1.45" stroke-linejoin="round" fill="#333" textLength="179.96" lengthAdjust="spacingAndGlyphs">Narrative</text>
<text x="285.17" y="1305.70" font-size="23.00" font-weight="700" fill="#9a9a9a" textLength="11.08" lengthAdjust="spacingAndGlyphs">?</text>
<text x="73.80" y="1378.30" font-size="30.00" fill="#3a3a3a" textLength="584.49" lengthAdjust="spacingAndGlyphs">Including Key Moments, Leading data source</text>
<text x="2061.00" y="1268.60" font-size="26.20" stroke="#666" stroke-width="0.89" stroke-linejoin="round" fill="#666" textLength="147.65" lengthAdjust="spacingAndGlyphs">Quick export</text>
<text x="1035.14" y="1441.80" font-size="24.70" fill="#c0c1c4" textLength="85.75" lengthAdjust="spacingAndGlyphs">15 days</text>
<text x="1171.84" y="1441.80" font-size="24.70" fill="#c0c1c4" textLength="72.65" lengthAdjust="spacingAndGlyphs">0 days</text>
<text x="1119.56" y="1737.90" font-size="26.20" stroke="#333" stroke-width="0.89" stroke-linejoin="round" fill="#333" textLength="63.62" lengthAdjust="spacingAndGlyphs">News</text>
<text><tspan x="1036.65" y="1973.50" font-size="202.00" font-weight="700" fill="#472be8" textLength="223.20" lengthAdjust="spacingAndGlyphs">63</tspan> <tspan x="1255.58" y="1866.00" font-size="42.00" font-weight="700" fill="#472be8" textLength="39.90" lengthAdjust="spacingAndGlyphs">%</tspan></text>
<text x="1093.71" y="2052.00" font-size="26.20" stroke="#333" stroke-width="0.89" stroke-linejoin="round" fill="#333" textLength="114.51" lengthAdjust="spacingAndGlyphs">Lead time</text>
<text><tspan x="1106.28" y="2085.00" font-size="26.20" font-weight="700" fill="#333" textLength="30.34" lengthAdjust="spacingAndGlyphs">10</tspan> <tspan x="1142.95" y="2085.00" font-size="26.20" fill="#333" textLength="52.65" lengthAdjust="spacingAndGlyphs">days</tspan></text>
<text x="527.69" y="1632.40" font-size="24.70" stroke="#fff" stroke-width="0.84" stroke-linejoin="round" fill="#fff" textLength="56.28" lengthAdjust="spacingAndGlyphs">Docs</text>
<text><tspan x="501.28" y="1715.40" font-size="81.00" stroke="#fff" stroke-width="3.24" stroke-linejoin="round" fill="#fff" textLength="81.60" lengthAdjust="spacingAndGlyphs">14</tspan> <tspan x="591.36" y="1672.80" font-size="21.00" stroke="#fff" stroke-width="1.05" stroke-linejoin="round" fill="#fff" textLength="19.08" lengthAdjust="spacingAndGlyphs">%</tspan></text>
<text x="1649.69" y="1495.60" font-size="24.70" stroke="#fff" stroke-width="0.84" stroke-linejoin="round" fill="#fff" textLength="70.78" lengthAdjust="spacingAndGlyphs">Social</text>
<text><tspan x="1631.62" y="1578.60" font-size="81.00" stroke="#fff" stroke-width="3.24" stroke-linejoin="round" fill="#fff" textLength="78.88" lengthAdjust="spacingAndGlyphs">13</tspan> <tspan x="1719.76" y="1536.00" font-size="21.00" stroke="#fff" stroke-width="1.05" stroke-linejoin="round" fill="#fff" textLength="19.08" lengthAdjust="spacingAndGlyphs">%</tspan></text>
<text x="588.74" y="2303.60" font-size="24.70" stroke="#fff" stroke-width="0.84" stroke-linejoin="round" fill="#fff" textLength="79.01" lengthAdjust="spacingAndGlyphs">Search</text>
<text><tspan x="574.15" y="2386.60" font-size="81.00" stroke="#fff" stroke-width="3.24" stroke-linejoin="round" fill="#fff" textLength="80.63" lengthAdjust="spacingAndGlyphs">12</tspan> <tspan x="662.96" y="2344.00" font-size="21.00" stroke="#fff" stroke-width="1.05" stroke-linejoin="round" fill="#fff" textLength="19.08" lengthAdjust="spacingAndGlyphs">%</tspan></text>
<text x="1649.59" y="2229.70" font-size="70.00" font-weight="700" fill="#333" textLength="487.11" lengthAdjust="spacingAndGlyphs">Lead Indicators</text>
<text><tspan x="1652.09" y="2309.80" font-size="30.50" fill="#3c3c3c" textLength="509.37" lengthAdjust="spacingAndGlyphs">News is the leading indicator and leads</tspan> <tspan x="1653.29" y="2350.20" font-size="30.50" fill="#3c3c3c" textLength="494.93" lengthAdjust="spacingAndGlyphs">other channels by 10 days for Trend X.</tspan> <tspan x="1653.83" y="2390.60" font-size="30.50" fill="#3c3c3c" textLength="516.21" lengthAdjust="spacingAndGlyphs">This signifies that any activity related to</tspan> <tspan x="1654.05" y="2431.00" font-size="30.50" fill="#3c3c3c" textLength="428.09" lengthAdjust="spacingAndGlyphs">this trend will appear first via the</tspan> <tspan x="1652.51" y="2471.40" font-size="30.50" fill="#3c3c3c" textLength="480.84" lengthAdjust="spacingAndGlyphs">leading indicator by a lead time of 10</tspan> <tspan x="1653.28" y="2511.80" font-size="30.50" fill="#3c3c3c" textLength="69.58" lengthAdjust="spacingAndGlyphs">days.</tspan></text>
<text x="470.94" y="2619.10" font-size="21.00" stroke="#fff" stroke-width="0.71" stroke-linejoin="round" fill="#fff" textLength="119.59" lengthAdjust="spacingAndGlyphs">Sep 12, 2020</text>
<text x="179.08" y="3025.20" font-size="21.00" stroke="#bcbcbc" stroke-width="0.71" stroke-linejoin="round" fill="#bcbcbc" textLength="85.93" lengthAdjust="spacingAndGlyphs">Jan 2020</text>
<text x="635.28" y="3025.20" font-size="21.00" stroke="#bcbcbc" stroke-width="0.71" stroke-linejoin="round" fill="#bcbcbc" textLength="87.19" lengthAdjust="spacingAndGlyphs">May 2020</text>
<text x="1089.89" y="3025.20" font-size="21.00" stroke="#bcbcbc" stroke-width="0.71" stroke-linejoin="round" fill="#bcbcbc" textLength="86.50" lengthAdjust="spacingAndGlyphs">Sep 2020</text>
<text x="1543.08" y="3025.20" font-size="21.00" stroke="#bcbcbc" stroke-width="0.71" stroke-linejoin="round" fill="#bcbcbc" textLength="86.14" lengthAdjust="spacingAndGlyphs">Jan 2021</text>
<text x="1999.87" y="3025.20" font-size="21.00" stroke="#bcbcbc" stroke-width="0.71" stroke-linejoin="round" fill="#bcbcbc" textLength="87.39" lengthAdjust="spacingAndGlyphs">May 2021</text>
</g>
</svg>
</body>
</html>
